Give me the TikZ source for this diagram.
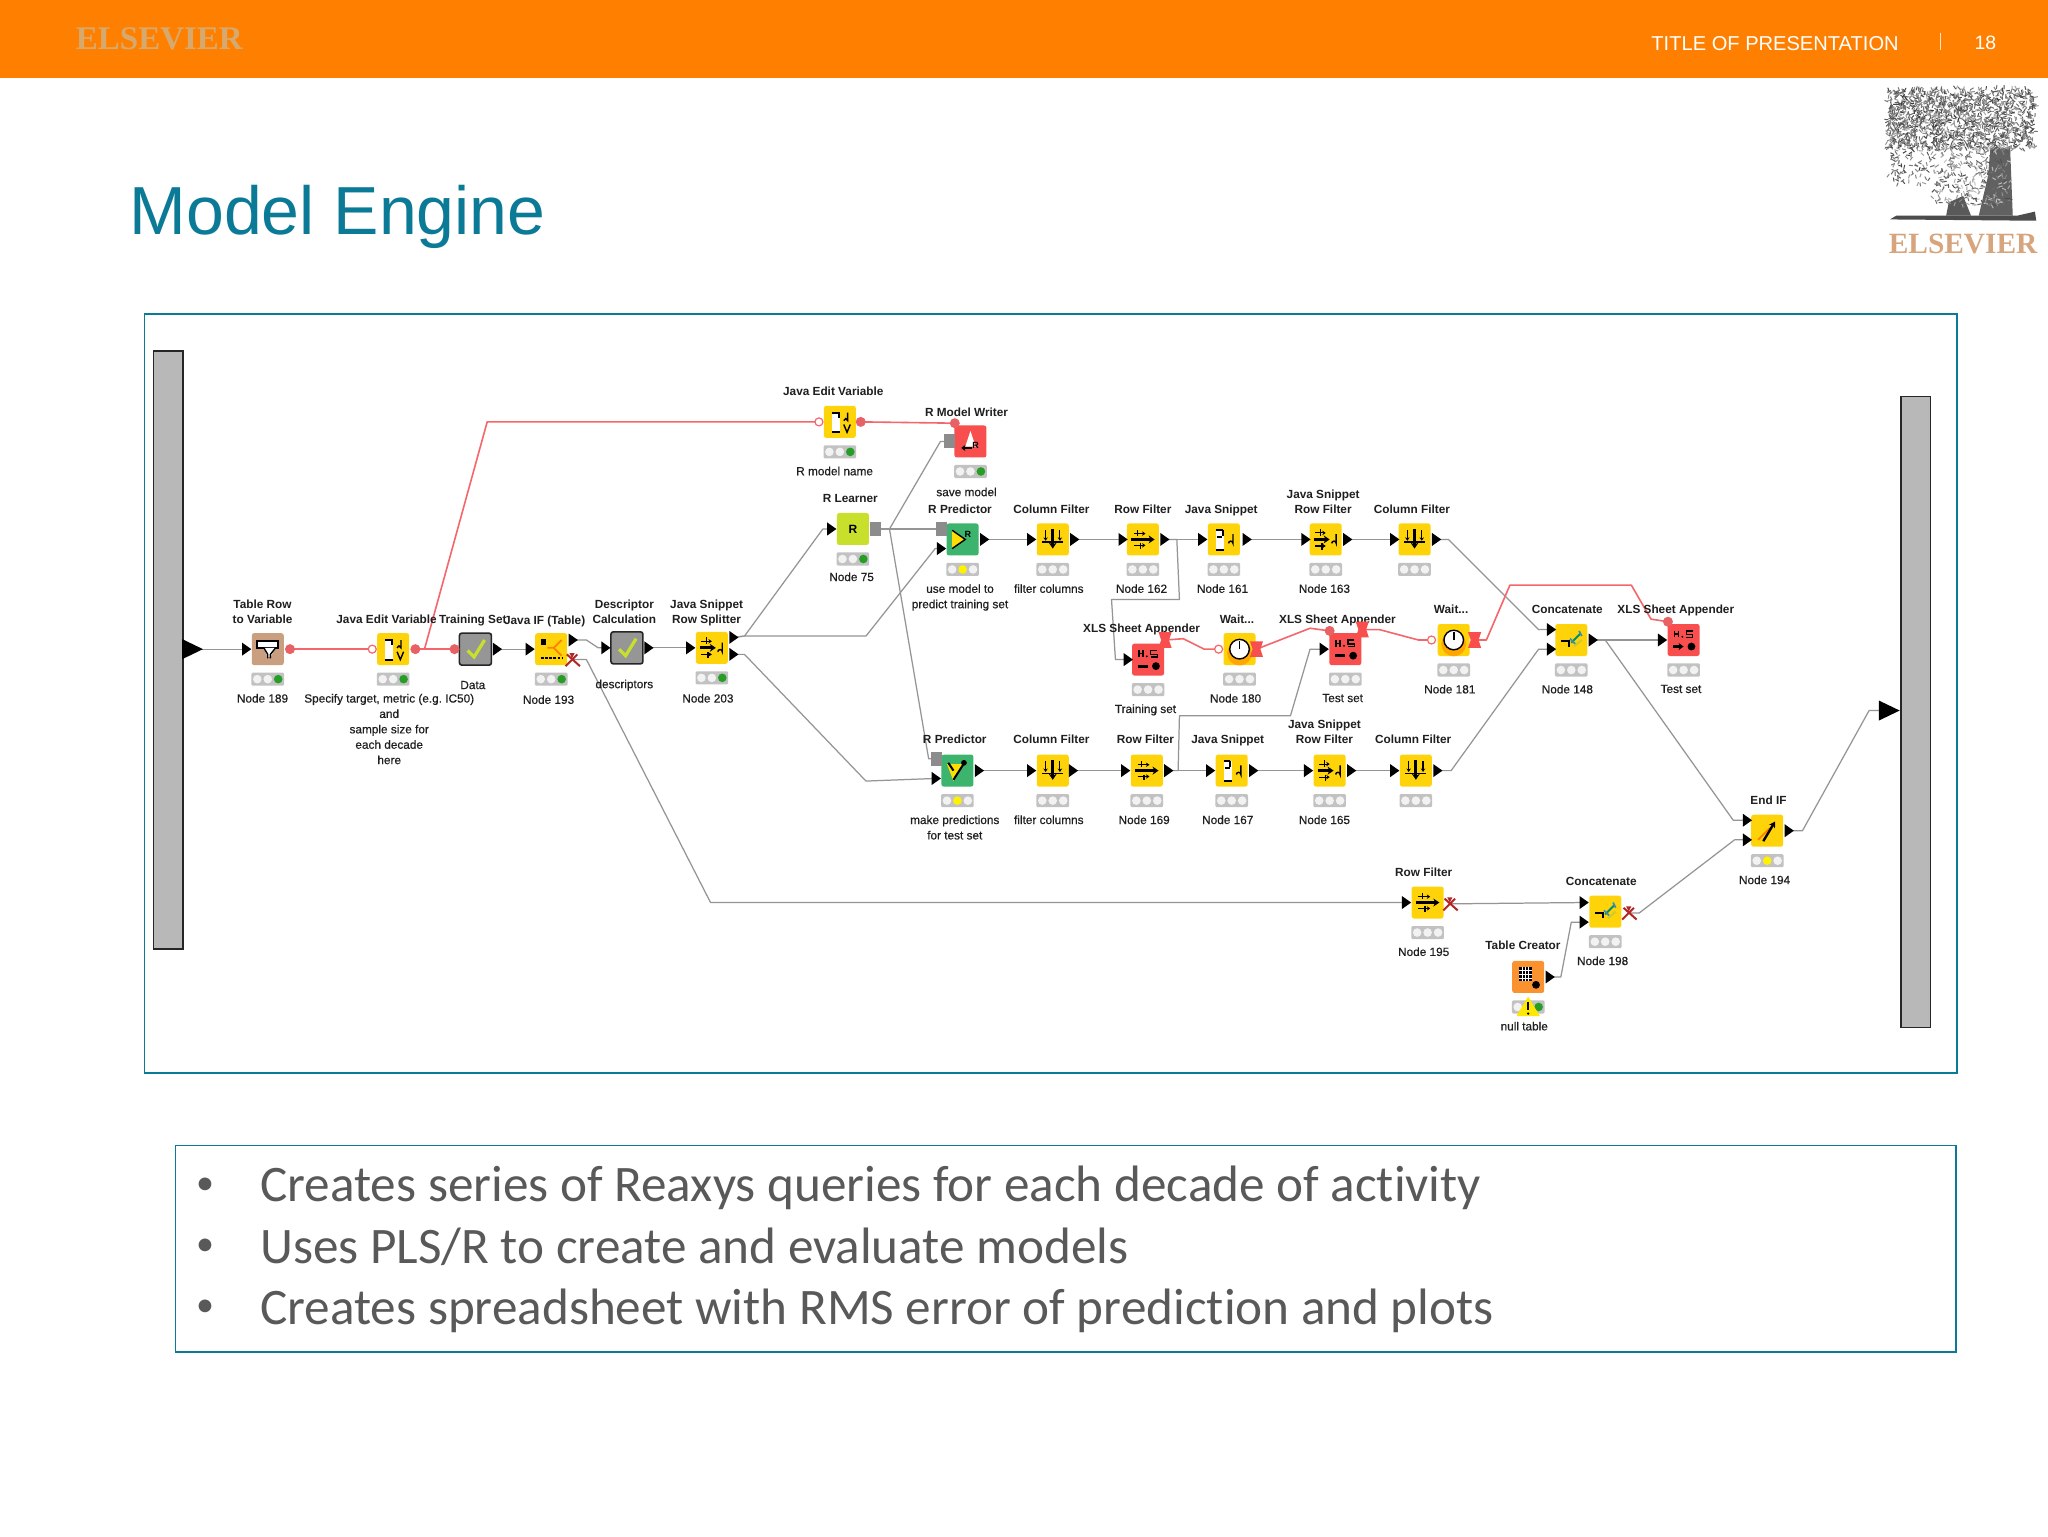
\documentclass[tikz,border=0pt]{standalone}
\usepackage{fontspec}
\setmainfont{Liberation Sans}
\newfontfamily\carl[Ligatures={NoCommon}]{Carlito}
\newfontfamily\seri{Liberation Serif}
\newfontfamily\labf[FakeBold=0.5]{Liberation Sans}
\usetikzlibrary{shapes.geometric,arrows.meta,backgrounds}
\definecolor{kyel}{HTML}{FFD30A}
\definecolor{kred}{HTML}{F84E4E}
\definecolor{ktan}{HTML}{C99F80}
\definecolor{kgry}{HTML}{969696}
\definecolor{klim}{HTML}{C8E02C}
\definecolor{kgrn}{HTML}{3CB46E}
\definecolor{korg}{HTML}{FB9230}
\definecolor{teal1}{HTML}{0B7A96}
\definecolor{flow}{HTML}{F4666A}
\definecolor{wire}{HTML}{959595}
\newcommand{\lampbody}[3]{
  \fill[black!24,rounded corners=.6pt] (-12.5,-5) rectangle (12.5,5);
  \fill[#1] (-8,0) circle (3.3);
  \fill[#2] (0,0) circle (3.3);
  \fill[#3] (8,0) circle (3.3);
}
\tikzset{
  kbox/.style={rounded corners=1.2pt,minimum width=16pt,minimum height=16pt,inner sep=0pt},
  mbox/.style={kbox,draw=black!85,line width=.8pt,fill=kgry},
  tlab/.style={font=\fontsize{5.9}{7.5}\bfseries\selectfont\frenchspacing,align=center,inner sep=0pt,text=black!88},
  blab/.style={font=\labf\fontsize{5.9}{7.7}\selectfont\frenchspacing,align=center,inner sep=0pt,text=black!88},
  tri/.style={isosceles triangle,isosceles triangle apex angle=70,isosceles triangle stretches,fill=black,inner sep=0pt,minimum width=6.5pt,minimum height=4.6pt,xshift=-.7pt},
  bigtri/.style={tri,minimum width=10pt,minimum height=10.4pt,xshift=-1.7pt},
  vfill/.style={circle,fill=flow!95!black,minimum size=5pt,inner sep=0pt},
  vhol/.style={circle,draw=flow,fill=white,line width=.6pt,minimum size=4pt,inner sep=0pt},
  vsq/.style={rectangle,fill=kred,minimum width=5pt,minimum height=5pt,inner sep=0pt},
  msq/.style={rectangle,fill=black!45,minimum width=5.5pt,minimum height=7pt,inner sep=0pt},
  cross/.style={inner sep=0pt,minimum size=5pt},
  gw/.style={draw=wire,line width=.62pt,line join=round},
  rw/.style={draw=flow,line width=.8pt,line join=round},
  ar/.style={line width=.55pt,-{Stealth[length=1.7pt,width=2.2pt]}},
  barr/.style={line width=1.5pt,-{Stealth[length=3pt,width=4pt]}},
  ln/.style={line width=.7pt},
  inone/.pic={},
  litn/.pic={\lampbody{black!5}{black!5}{black!5}},
  litg/.pic={\lampbody{black!5}{black!5}{green!55!black!85}},
  lity/.pic={\lampbody{black!5}{yellow}{black!5}},
  icf/.pic={\draw[barr] (0,-8) -- (0,7); \draw[ar] (-5.5,-7) -- (-5.5,1); \draw[ar] (5.5,-7) -- (5.5,1); \draw[ln] (-8,2) -- (8,2);},
  irf/.pic={\draw[barr] (-9,0) -- (9,0); \draw[ar] (-7,-4.5) -- (2,-4.5); \draw[ar] (-7,4.5) -- (2,4.5); \draw[ln] (-4,-7) -- (-4,-3); \draw[ln] (-2,3) -- (-2,7);},
  ijs/.pic={\fill[white] (-6,-7) rectangle (0,8); \draw[line width=1pt] (-6,-7) -- (-1,-7) (-1,-7) -- (-1,-3) (-6,8) -- (0,8) (-5.5,-2) -- (-1.5,-2); \draw[ln] (7,-4) -- (7,3) arc (0:-180:1.7);},
  ijr/.pic={\draw[barr] (-9,0) -- (3,0); \draw[ar] (-8,-5) -- (0,-5); \draw[ar] (-8,5) -- (0,5); \draw[ln] (-4,-8) -- (-4,-3) (-3,3) -- (-3,8); \draw[ln] (8,-4) -- (8,3) arc (0:-180:1.7);},
  ije/.pic={\fill[white] (-6,-7) rectangle (0,8); \draw[line width=1pt] (-6,-7) -- (-1,-7) -- (-1,-3) (-6,8) -- (0,8); \draw[ln] (6,-7) -- (6,-1) arc (0:-180:1.5); \draw[ln] (3,2) -- (5.5,8) -- (8,2);},
  ick/.pic={\draw[klim,line width=1.6pt] (-6,1) -- (-1,6) -- (7,-7);},
  itv/.pic={\draw[line width=.9pt,fill=white] (-8,-6) rectangle (8,-1); \fill[white] (-3,-1) -- (6,-1) -- (2,6) -- (0,6) -- cycle; \draw[ln] (-3,-1) -- (0,4) -- (0,7) (6,-1) -- (2,4) -- (2,7);},
  ipr/.pic={\fill[yellow!80!orange] (-8,-7) -- (2,0) -- (-8,7) -- cycle; \draw[ln] (-8,-7) -- (2,0) -- (-8,7);},
  ipb/.pic={\fill[yellow!80!orange] (-8,-5) -- (4,-5) -- (-3,8) -- cycle; \draw[line width=1pt] (-7,-6) -- (-3,0) (-3,7) -- (6,-7); \fill (5,-6) circle (2.2);},
  iwr/.pic={\fill[white] (-4,4) -- (0,-8) -- (4,4) -- cycle; \draw[line width=1pt,-{Stealth[length=2pt,width=3pt]}] (1,5) -- (-7,5);},
  ixl/.pic={\draw[ln] (-7,-7) -- (-7,-2) (-4,-7) -- (-4,-2) (-7,-4.5) -- (-4,-4.5); \fill (-1,-2.5) circle (.8); \draw[ln] (7,-7) -- (2,-7) -- (2,-4) -- (7,-4) -- (7,-2) -- (2,-2); \draw[line width=1.4pt] (-8,5) -- (0,5); \fill (6,5) circle (3);},
  ixm/.pic={\draw[ln] (-7,-7) -- (-7,-2) (-4,-7) -- (-4,-2) (-7,-4.5) -- (-4,-4.5); \fill (-1,-2.5) circle (.8); \draw[ln] (7,-7) -- (2,-7) -- (2,-4) -- (7,-4) -- (7,-2) -- (2,-2); \draw[-{Stealth[length=2.5pt,width=3.5pt]},line width=1.1pt] (-8,5) -- (0,5); \fill (6,5) circle (3);},
  iwt/.pic={\fill[orange!70!yellow] (0,3) circle (9.5); \fill[white] (0,0) circle (7.5); \draw[line width=.7pt] (0,0) circle (7.5); \draw[line width=.9pt] (0,0) -- (0,-6);},
  icc/.pic={\draw[line width=1pt] (-8,1) -- (-2,1) -- (-2,5); \draw[line width=1pt,green!55!blue] (0,2) -- (7,-5); \draw[line width=.9pt,cyan!70!black] (-1,-1) -- (3,3) (6,-7) -- (8,-3); \draw[line width=1pt,yellow!80!black] (2,5) -- (8,0);},
  iif/.pic={\fill (-8,-8) rectangle (-4,-3); \draw[orange,line width=.9pt] (-3,-1) -- (2,-1) -- (8,-7) (2,-1) -- (8,5); \draw[dash pattern=on 1.4pt off .7pt,line width=1.2pt] (-8,7) -- (9,7);},
  itc/.pic={\fill (-7,-8) rectangle (3,3); \draw[white,line width=.35pt] (-4.5,-8) -- (-4.5,3) (-2,-8) -- (-2,3) (.5,-8) -- (.5,3) (-7,-5) -- (3,-5) (-7,-2) -- (3,-2) (-7,.7) -- (3,.7); \fill (6,6) circle (3);},
  ien/.pic={\draw[orange,line width=.9pt] (-7,7) -- (2,-2); \draw[line width=1.2pt,-{Stealth[length=3pt,width=3.5pt]}] (-3,8) -- (6,-7);},
  iwarn/.pic={\fill[yellow!90!orange] (0,-9) -- (9,6) -- (-9,6) -- cycle; \draw[line width=.9pt] (0,-5) -- (0,1); \fill (0,4) circle (1);},
  ixx/.pic={\draw[red!65!black!85,line width=1pt] (-5,5) -- (4,-4) (-4,-4) -- (6,5); \fill[red!65!black!85] (-2,-5) -- (2,-5) -- (0,-1) -- cycle;},
  ibow/.pic={\fill[kred] (-5,-6) -- (5,-6) -- (3,0) -- (5,6) -- (-5,6) -- (-3,0) -- cycle;},
}
\newcommand{\kn}[6]{%
  \node[kbox,fill=#4] (#1) at (#2,#3) {};
  \pic at (#1.center) {#5};
  \pic at ([yshift=-15pt]#1.center) {lit#6};
}
\newcommand{\mn}[3]{%
  \node[mbox] (#1) at (#2,#3) {};
  \pic at (#1.center) {ick};
}
\newcommand{\tl}[4]{\node[tlab,anchor=base,yshift=-2pt] (#1-t) at (#2,#3) {#4};}
\newcommand{\bl}[4]{\node[blab,anchor=north,yshift=2.6pt] (#1-b) at (#2,#3) {#4};}
\newcommand{\pin}[3]{\node[tri] (#1) at (#2,#3) {};}
\begin{document}
\begin{tikzpicture}[x=0.65306pt,y=-0.65306pt]
\useasboundingbox (0,0) rectangle (1568,1176);
\begin{scope}[on background layer]
\fill[white] (0,0) rectangle (1568,1176);
\end{scope}
% ---------- header
\node[fill={rgb,255:red,255;green,128;blue,0},minimum width=1024pt,minimum height=38.8pt,inner sep=0pt,anchor=north west] (hdr) at (0,0) {};
\node[font=\seri\bfseries\fontsize{16.5}{17}\selectfont,text={rgb,255:red,214;green,170;blue,110},inner sep=0pt] (hlogo) at (122,30) {ELSEVIER};
\node[font=\fontsize{10.05}{11}\selectfont,text=white,inner sep=0pt] (htitle) at (1359,33) {TITLE OF PRESENTATION};
\draw[white!80!orange,line width=.5pt] (1486,25) -- (1486,38);
\node[font=\fontsize{9.7}{10}\selectfont,text=white,inner sep=0pt] (hnum) at (1520,33) {18};
% ---------- tree logo
\begin{scope}
\pgfmathsetseed{11}
\fill[black!62] (1524,112) -- (1539,114) -- (1541,165) -- (1515,165) -- (1522,135) -- cycle;
\fill[black!65] (1490,165) -- (1492,155) -- (1503,150) -- (1509,165) -- cycle;
\foreach \i in {1,...,1500}{
  \pgfmathsetmacro\tx{1445+113*rnd}
  \pgfmathsetmacro\ty{68+46*rnd}
  \pgfmathsetmacro\an{360*rnd}
  \pgfmathsetmacro\gr{32+45*rnd}
  \draw[black!\gr,line width=.5pt] (\tx,\ty) -- ++(\an:3);
}
\foreach \i in {1,...,300}{
  \pgfmathsetmacro\tx{1480+58*rnd}
  \pgfmathsetmacro\ty{112+46*rnd}
  \pgfmathsetmacro\an{360*rnd}
  \pgfmathsetmacro\gr{20+50*rnd}
  \draw[black!\gr,line width=.5pt] (\tx,\ty) -- ++(\an:3);
}
\foreach \i in {1,...,80}{
  \pgfmathsetmacro\tx{1446+34*rnd}
  \pgfmathsetmacro\ty{112+28*rnd}
  \pgfmathsetmacro\an{360*rnd}
  \pgfmathsetmacro\gr{35+40*rnd}
  \draw[black!\gr,line width=.5pt] (\tx,\ty) -- ++(\an:3);
}
\fill[black!70] (1447,168) -- (1452,165) -- (1545,165) -- (1558,162) -- (1559,169) -- cycle;
\end{scope}
\node[font=\seri\bfseries\fontsize{14.7}{15}\selectfont,text={rgb,255:red,214;green,165;blue,125},inner sep=0pt] (tlogo) at (1503,187) {ELSEVIER};
% ---------- title
\node[font=\fontsize{34}{36}\selectfont,text=teal1,inner sep=0pt,anchor=west] (title) at (99,166) {Model Engine};
% ---------- frames
\node[draw=teal1,line width=.7pt,minimum width=906.3pt,minimum height=379.4pt,inner sep=0pt,anchor=north west] (frame) at (110,240) {};
\node[draw=teal1,line width=.7pt,minimum width=890.2pt,minimum height=103.2pt,inner sep=0pt,anchor=north west] (txtbox) at (134,876.5) {};
\foreach \n/\y/\s in {a/909/{Creates series of Reaxys queries for each decade of activity},b/956/{Uses PLS/R to create and evaluate models},c/1003/{Creates spreadsheet with RMS error of prediction and plots}}{
  \node[font=\carl\fontsize{18}{18}\selectfont,text=black!65,inner sep=0pt] (bu\n) at (157,\y-1) {•};
  \node[font=\carl\fontsize{25.6}{26}\selectfont,text=black!65,inner sep=0pt,anchor=base west] (tx\n) at (199,\y+11) {\s};
}
% ---------- metanode bars
\node[draw=black!85,fill=black!28,line width=.8pt,minimum width=14.6pt,minimum height=299pt,inner sep=0pt,anchor=north west] (mL) at (117,268) {};
\node[draw=black!85,fill=black!28,line width=.8pt,minimum width=14.6pt,minimum height=315.5pt,inner sep=0pt,anchor=north west] (mR) at (1455,303) {};
\node[bigtri] (mLo) at (148,497) {};
\node[bigtri] (mRi) at (1447,544) {};
% ---------- knime nodes
\kn{t2v}{205}{497}{ktan}{itv}{g}
\tl{t2v}{201}{474}{Table Row\\to Variable}
\bl{t2v}{201}{535}{Node 189}
\kn{jev}{301}{497}{kyel}{ije}{g}
\tl{jev}{296}{474}{Java Edit Variable}
\bl{jev}{298}{535}{Specify target, metric (e.g. IC50)\\and\\sample size for\\each decade\\here}
\mn{dat}{364}{497}
\tl{dat}{362}{474}{Training Set}
\bl{dat}{362}{525}{Data}
\kn{jif}{422}{497}{kyel}{iif}{g}
\tl{jif}{417}{475}{Java IF (Table)}
\bl{jif}{420}{536}{Node 193}
\mn{des}{480}{496}
\tl{des}{478}{474}{Descriptor\\Calculation}
\bl{des}{478}{524}{descriptors}
\kn{spl}{545}{496}{kyel}{ijr}{g}
\tl{spl}{541}{474}{Java Snippet\\Row Splitter}
\bl{spl}{542}{535}{Node 203}
\kn{jv2}{643}{323}{kyel}{ije}{g}
\tl{jv2}{638}{300}{Java Edit Variable}
\bl{jv2}{639}{361}{R model name}
\kn{wrt}{743}{338}{kred}{iwr}{g}
\node[font=\fontsize{4.5}{5}\bfseries\selectfont,inner sep=0pt] (wrt-r) at (747,341) {R};
\tl{wrt}{740}{316}{R Model Writer}
\bl{wrt}{740}{377}{save model}
\kn{lrn}{653}{405}{klim}{inone}{g}
\node[font=\fontsize{6}{6}\bfseries\selectfont,inner sep=0pt] (lrn-r) at (653,405) {R};
\tl{lrn}{651}{382}{R Learner}
\bl{lrn}{652}{442}{Node 75}
\kn{pr1}{737}{413}{kgrn}{ipr}{y}
\node[font=\fontsize{4.5}{5}\bfseries\selectfont,inner sep=0pt] (pr1-r) at (741,409) {R};
\tl{pr1}{735}{390}{R Predictor}
\bl{pr1}{735}{451}{use model to\\predict training set}
\kn{cf1}{806}{413}{kyel}{icf}{n}
\tl{cf1}{805}{390}{Column Filter}
\bl{cf1}{803}{451}{filter columns}
\kn{rf1}{875}{413}{kyel}{irf}{n}
\tl{rf1}{875}{390}{Row Filter}
\bl{rf1}{874}{451}{Node 162}
\kn{js1}{937}{413}{kyel}{ijs}{n}
\tl{js1}{935}{390}{Java Snippet}
\bl{js1}{936}{451}{Node 161}
\kn{jr1}{1015}{413}{kyel}{ijr}{n}
\tl{jr1}{1013}{390}{Java Snippet\\Row Filter}
\bl{jr1}{1014}{451}{Node 163}
\kn{cf2}{1083}{413}{kyel}{icf}{n}
\tl{cf2}{1081}{390}{Column Filter}
\kn{xl1}{879}{505}{kred}{ixl}{n}
\tl{xl1}{874}{481}{XLS Sheet Appender}
\bl{xl1}{877}{543}{Training set}
\kn{wa1}{949}{497}{kyel}{iwt}{n}
\tl{wa1}{947}{474}{Wait...}
\bl{wa1}{946}{535}{Node 180}
\kn{xl2}{1030}{497}{kred}{ixl}{n}
\tl{xl2}{1024}{474}{XLS Sheet Appender}
\bl{xl2}{1028}{535}{Test set}
\kn{wa2}{1113}{490}{kyel}{iwt}{n}
\tl{wa2}{1111}{467}{Wait...}
\bl{wa2}{1110}{528}{Node 181}
\kn{cc1}{1203}{490}{kyel}{icc}{n}
\tl{cc1}{1200}{467}{Concatenate}
\bl{cc1}{1200}{528}{Node 148}
\kn{xl3}{1289}{490}{kred}{ixm}{n}
\tl{xl3}{1283}{467}{XLS Sheet Appender}
\bl{xl3}{1287}{528}{Test set}
\kn{pr2}{733}{590}{kgrn}{ipb}{y}
\tl{pr2}{731}{566}{R Predictor}
\bl{pr2}{731}{628}{make predictions\\for test set}
\kn{cf3}{806}{590}{kyel}{icf}{n}
\tl{cf3}{805}{566}{Column Filter}
\bl{cf3}{803}{628}{filter columns}
\kn{rf2}{878}{590}{kyel}{irf}{n}
\tl{rf2}{877}{566}{Row Filter}
\bl{rf2}{876}{628}{Node 169}
\kn{js2}{943}{590}{kyel}{ijs}{n}
\tl{js2}{940}{566}{Java Snippet}
\bl{js2}{940}{628}{Node 167}
\kn{jr2}{1018}{590}{kyel}{ijr}{n}
\tl{jr2}{1014}{566}{Java Snippet\\Row Filter}
\bl{jr2}{1014}{628}{Node 165}
\kn{cf4}{1084}{590}{kyel}{icf}{n}
\tl{cf4}{1082}{566}{Column Filter}
\kn{rf3}{1093}{691}{kyel}{irf}{n}
\tl{rf3}{1090}{668}{Row Filter}
\bl{rf3}{1090}{729}{Node 195}
\kn{cc2}{1229}{698}{kyel}{icc}{n}
\tl{cc2}{1226}{675}{Concatenate}
\bl{cc2}{1227}{736}{Node 198}
\kn{tbc}{1170}{748}{korg}{itc}{g}
\pic at (1170,772) {iwarn};
\tl{tbc}{1166}{724}{Table Creator}
\bl{tbc}{1167}{786}{null table}
\kn{eif}{1353}{636}{kyel}{ien}{y}
\tl{eif}{1354}{613}{End IF}
\bl{eif}{1351}{674}{Node 194}
% ---------- ports
\pin{t2vi}{189}{497}\pin{dato}{381}{497}\pin{jifi}{406}{497}\pin{jifo}{439}{490}
\pin{desi}{464}{496}\pin{deso}{497}{496}\pin{spli}{529}{496}\pin{splo}{562}{488}\pin{splp}{562}{501}
\pin{lrni}{637}{405}\pin{pr1i}{721}{420}\pin{pr1o}{754}{413}\pin{cf1i}{790}{413}\pin{cf1o}{823}{413}
\pin{rf1i}{860}{413}\pin{rf1o}{892}{413}\pin{js1i}{921}{413}\pin{js1o}{955}{413}\pin{jr1i}{1000}{413}\pin{jr1o}{1032}{413}
\pin{cf2i}{1068}{413}\pin{cf2o}{1100}{413}\pin{xl1i}{864}{505}\pin{xl2i}{1014}{497}
\pin{cc1i}{1188}{482}\pin{cc1j}{1188}{497}\pin{cc1o}{1220}{490}\pin{xl3i}{1273}{490}
\pin{pr2i}{717}{596}\pin{pr2o}{750}{590}\pin{cf3i}{790}{590}\pin{cf3o}{822}{590}\pin{rf2i}{862}{590}\pin{rf2o}{895}{590}
\pin{js2i}{927}{590}\pin{js2o}{960}{590}\pin{jr2i}{1002}{590}\pin{jr2o}{1035}{590}\pin{cf4i}{1068}{590}\pin{cf4o}{1101}{590}
\pin{rf3i}{1077}{691}\pin{cc2i}{1213}{691}\pin{cc2j}{1213}{706}\pin{tbco}{1187}{748}
\pin{eifi}{1338}{628}\pin{eifj}{1338}{643}\pin{eifo}{1370}{636}
\node[vfill] (t2vv) at (222,497) {};
\node[vhol] (jevi) at (285,497) {};
\node[vfill] (jevo) at (318,497) {};
\node[vfill] (datv) at (348,497) {};
\node[vhol] (jv2i) at (627,323) {};
\node[vfill] (jv2o) at (659,323) {};
\node[vfill] (wrtv) at (731,324) {};
\node[vhol] (wa1i) at (933,497) {};
\node[vhol] (wa2i) at (1096,490) {};
\node[vfill] (xl2v) at (1018,483) {};
\node[vfill] (xl3v) at (1277,476) {};
\node[msq] (wrti) at (727,338) {};
\node[msq] (lrno) at (670,405) {};
\node[msq] (pr1m) at (721,405) {};
\node[msq] (pr2m) at (717,581) {};
\node[vsq,fill=none] (xl1v) at (892,490) {}; \pic at (892,490) {ibow};
\node[vsq,fill=none] (wa1o) at (962,497) {}; \pic at (962,497) {ibow};
\node[vsq,fill=none] (xl2o) at (1043,482) {}; \pic at (1043,482) {ibow};
\node[vsq,fill=none] (wa2o) at (1129,490) {}; \pic at (1129,490) {ibow};
\node[cross] (jifx) at (438,505) {}; \pic at (438,505) {ixx};
\node[cross] (rf3x) at (1110,692) {}; \pic at (1110,692) {ixx};
\node[cross] (cc2x) at (1247,699) {}; \pic at (1247,699) {ixx};
% ---------- connectors
\begin{scope}[on background layer]
\draw[gw] (mLo.center) -- (t2vi.center);
\draw[rw] (t2vv.center) -- (jevi.center);
\draw[rw] (jevo.center) -- (datv.center);
\draw[rw] (jevo.center) ++(7,0) -- (373,323) -- (jv2i.center);
\draw[rw] (jv2o.center) -- (wrtv.center);
\draw[gw] (dato.center) -- (jifi.center);
\draw[gw] (jifo.center) -- (449,490) -- (458,496) -- (desi.center);
\draw[gw] (jifx.center) -- (449,505) -- (544,691) -- (rf3i.center);
\draw[gw] (deso.center) -- (spli.center);
\draw[gw] (splo.center) -- (570,487) -- (630,405) -- (lrni.center);
\draw[gw] (splo.center) -- (570,487) -- (663,487) -- (716,420) -- (pr1i.center);
\draw[gw] (splp.center) -- (570,501) -- (663,598) -- (pr2i.center);
\draw[gw,line width=1pt] (lrno.center) -- (pr1m.center);
\draw[gw] (681,405) -- (720,338) -- (wrti.center);
\draw[gw] (681,405) -- (711,581) -- (pr2m.center);
\draw[gw] (pr1o.center) -- (cf1i.center);
\draw[gw] (cf1o.center) -- (rf1i.center);
\draw[gw] (rf1o.center) -- (js1i.center);
\draw[gw] (js1o.center) -- (jr1i.center);
\draw[gw] (jr1o.center) -- (cf2i.center);
\draw[gw] (rf1o.center) -- (901,413) -- (903,459) -- (851,459) -- (854,505) -- (xl1i.center);
\draw[gw] (cf2o.center) -- (1109,413) -- (1178,482) -- (cc1i.center);
\draw[gw] (pr2o.center) -- (cf3i.center);
\draw[gw] (cf3o.center) -- (rf2i.center);
\draw[gw] (rf2o.center) -- (js2i.center);
\draw[gw] (js2o.center) -- (jr2i.center);
\draw[gw] (jr2o.center) -- (cf4i.center);
\draw[gw] (rf2o.center) -- (902,590) -- (903,548) -- (988,548) -- (1003,497) -- (xl2i.center);
\draw[gw] (cf4o.center) -- (1111,590) -- (1178,497) -- (cc1j.center);
\draw[gw] (cc1o.center) -- (xl3i.center);
\draw[gw] (cc1o.center) -- (1229,490) -- (1327,628) -- (eifi.center);
\draw[gw] (rf3x.center) -- (cc2i.center);
\draw[gw] (tbco.center) -- (1195,748) -- (1203,706) -- (cc2j.center);
\draw[gw] (cc2x.center) -- (1255,699) -- (1328,643) -- (eifj.center);
\draw[gw] (eifo.center) -- (1380,636) -- (1431,544) -- (mRi.center);
\draw[rw] (xl1v.center) -- (906,489) -- (922,497) -- (wa1i.center);
\draw[rw] (wa1o.center) -- (1003,481) -- (xl2v.center);
\draw[rw] (xl2o.center) -- (1056,482) -- (1086,490) -- (wa2i.center);
\draw[rw] (wa2o.center) -- (1138,490) -- (1156,448) -- (1249,448) -- (1264,474) -- (xl3v.center);
\end{scope}
\end{tikzpicture}
\end{document}
